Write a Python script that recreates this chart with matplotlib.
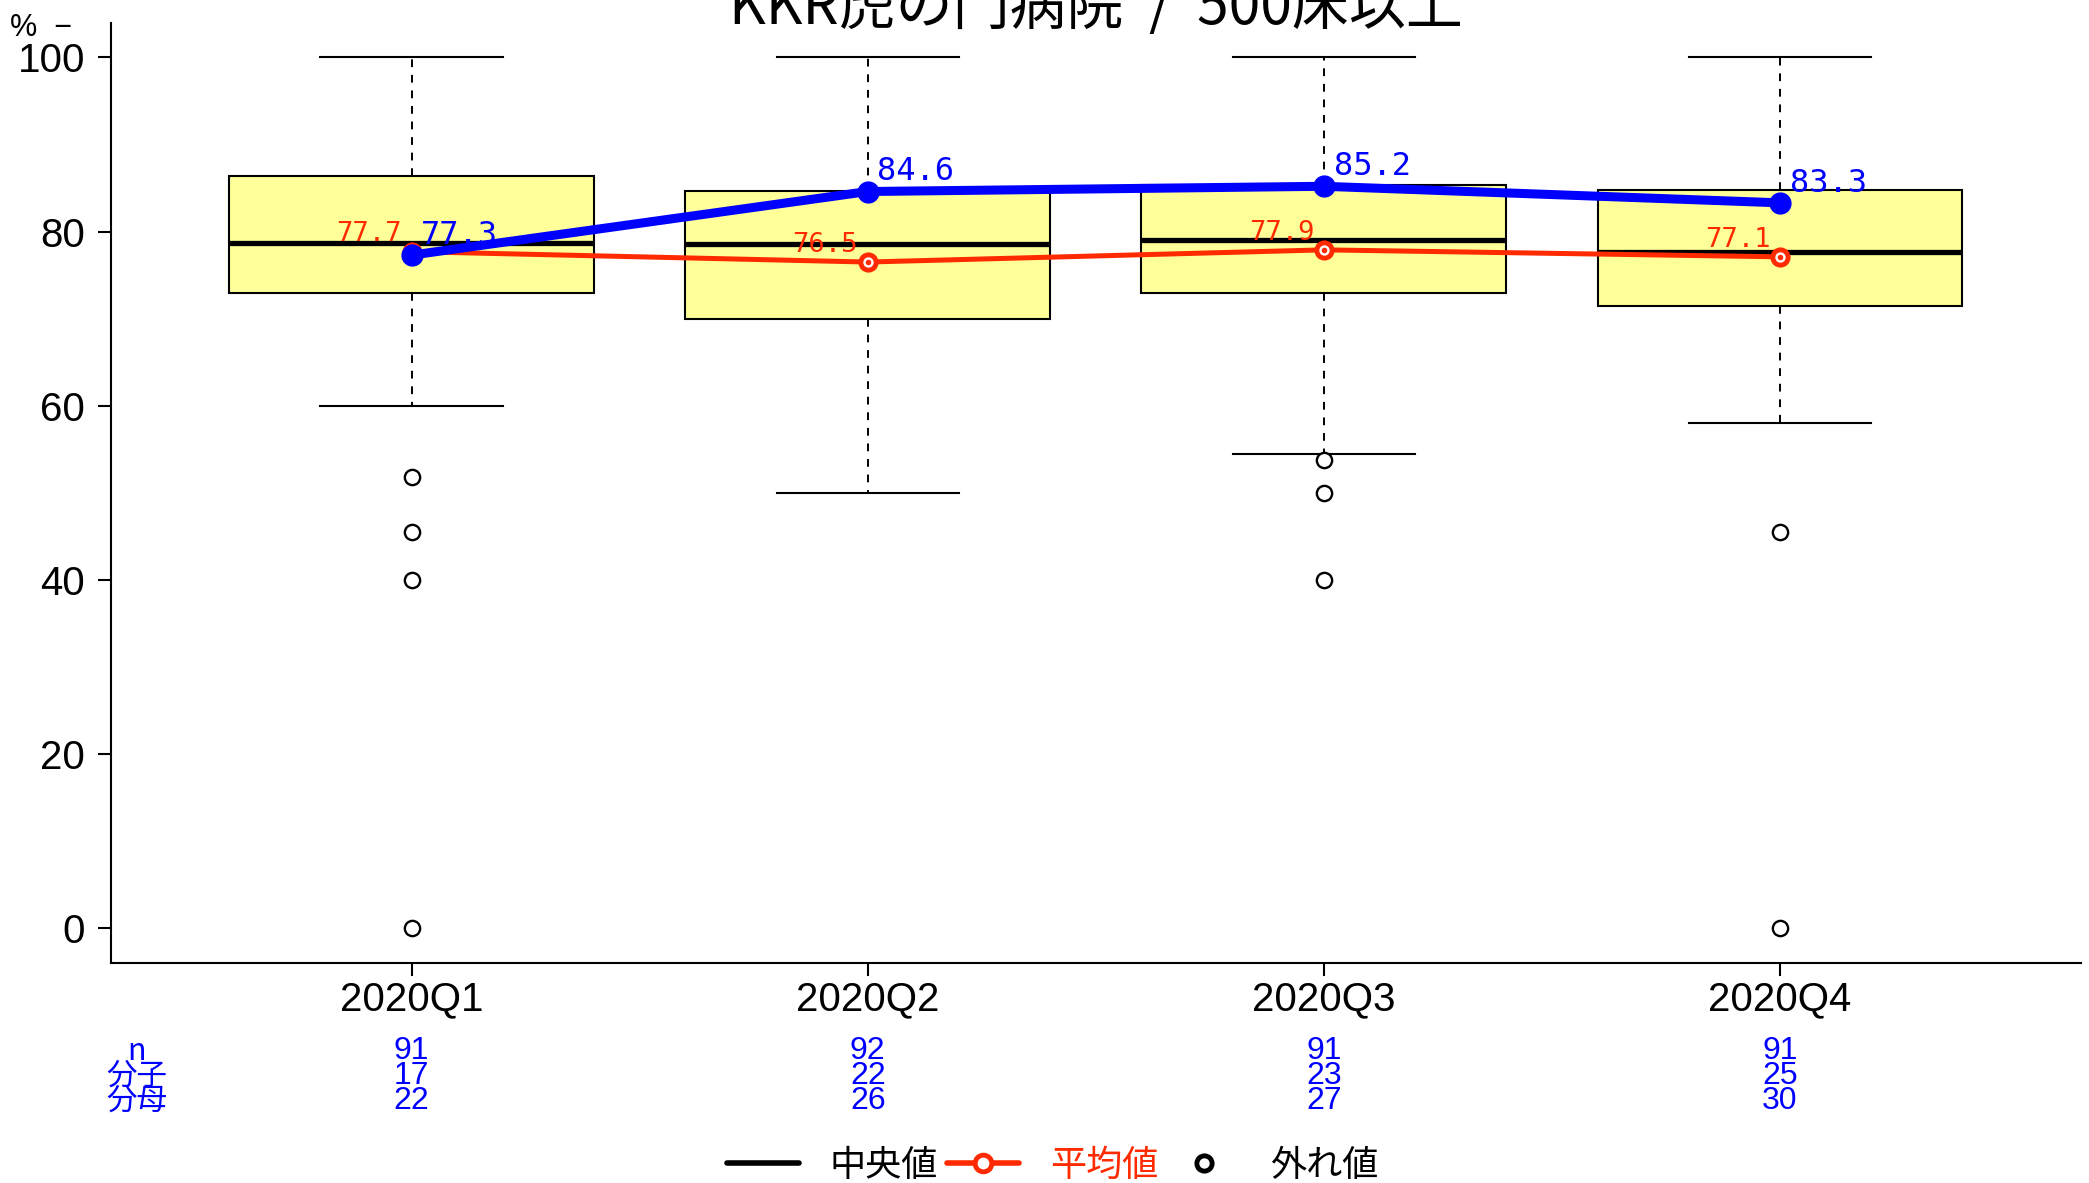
import matplotlib.pyplot as plt
import matplotlib.transforms as mtransforms
from matplotlib.lines import Line2D

plt.rcParams['font.family'] = ['Liberation Sans', 'Noto Sans CJK JP', 'DejaVu Sans']

title = 'KKR虎の門病院  /  500床以上'
quarters = ['2020Q1', '2020Q2', '2020Q3', '2020Q4']

# box stats
box_low = [73.0, 70.0, 73.0, 71.5]
box_med = [78.7, 78.6, 79.0, 77.6]
box_high = [86.4, 84.7, 85.3, 84.8]
whisk_low = [60.0, 50.0, 54.5, 58.0]
whisk_high = [100.0, 100.0, 100.0, 100.0]
outliers = [[51.8, 45.5, 40.0, 0.0], [], [53.8, 50.0, 40.0], [45.5, 0.0]]

means = [77.7, 76.5, 77.9, 77.1]
hospital = [77.3, 84.6, 85.2, 83.3]

n_rows = ['n', '分子', '分母']
n_vals = [91, 92, 91, 91]
num_vals = [17, 22, 23, 25]
den_vals = [22, 26, 27, 30]

RED = '#FF2A00'
BLUE = '#0000FF'
cjk = ['Noto Sans CJK JP', 'DejaVu Sans']

fig = plt.figure(figsize=(20.89, 11.83), dpi=100)
ax = fig.add_axes([0.05295, 0.18597, 0.94322, 0.79493])

pos = list(range(1, len(quarters) + 1))
stats = []
for i in range(len(quarters)):
    stats.append(dict(med=box_med[i], q1=box_low[i], q3=box_high[i],
                      whislo=whisk_low[i], whishi=whisk_high[i],
                      fliers=outliers[i]))

ax.bxp(stats, positions=pos, widths=0.8, capwidths=0.4, patch_artist=True,
       boxprops=dict(facecolor='#FFFF99', edgecolor='black', linewidth=1.5),
       medianprops=dict(color='black', linewidth=3.8, solid_capstyle='butt'),
       whiskerprops=dict(color='black', linewidth=1.4, linestyle=(0, (4, 4))),
       capprops=dict(color='black', linewidth=1.5),
       flierprops=dict(marker='o', markersize=11, markerfacecolor='white',
                       markeredgecolor='black', markeredgewidth=1.7))

ax.plot(pos, means, color=RED, lw=3.6, marker='o', ms=11, mfc='white',
        mec=RED, mew=3.5, zorder=4)
ax.plot(pos, means, ls='none', marker='o', ms=3, color=RED, zorder=4)
ax.plot(pos, hospital, color=BLUE, lw=6.5, marker='o', ms=15, zorder=5)

for x, m in zip(pos, means):
    ax.annotate(f'{m:.1f}', (x, m), xytext=(-7, 3), textcoords='offset points',
                ha='right', va='bottom', color=RED, fontsize=19.5,
                family='DejaVu Sans Mono', zorder=6)
for x, h in zip(pos, hospital):
    ax.annotate(f'{h:.1f}', (x, h), xytext=(7, 3), textcoords='offset points',
                ha='left', va='bottom', color=BLUE, fontsize=23,
                family='DejaVu Sans Mono', zorder=6)

ax.set_xlim(0.34, 4.66)
ax.set_ylim(-4, 104)
ax.set_xticks(pos)
ax.set_xticklabels(quarters)
ax.set_yticks([0, 20, 40, 60, 80, 100])
ax.tick_params(labelsize=29, length=9.5, width=1.5)
ax.tick_params(axis='y', pad=9)
ax.tick_params(axis='x', pad=3)
for s in ['top', 'right']:
    ax.spines[s].set_visible(False)
for s in ['left', 'bottom']:
    ax.spines[s].set_linewidth(1.5)

fig.text(0.5245, 1 - 37 / 1183, title, ha='center', va='bottom',
         fontsize=41, family=cjk)
fig.text(0.005, 1 - 28 / 1183, '%  −', ha='left', va='center', fontsize=22)

# n / numerator / denominator table under the axis
tr = mtransforms.blended_transform_factory(ax.transData, fig.transFigure)
row_y = [1 - 1051 / 1183, 1 - 1076 / 1183, 1 - 1101 / 1183]
for lab, yy in zip(n_rows, row_y):
    fig.text(137 / 2089, yy, lab, ha='center', va='center', color=BLUE,
             fontsize=22, family=cjk)
for vals, yy in zip([n_vals, num_vals, den_vals], row_y):
    for x, v in zip(pos, vals):
        fig.text(x, yy, str(v), transform=tr, ha='center', va='center',
                 color=BLUE, fontsize=23)

handles = [Line2D([], [], color='black', lw=4, solid_capstyle='round'),
           Line2D([], [], color=RED, lw=4, marker='o', ms=12, mfc='white',
                  mec=RED, mew=3.5, solid_capstyle='round'),
           Line2D([], [], ls='none', marker='o', ms=11, mfc='white',
                  mec='black', mew=3.5)]
leg = fig.legend(handles, ['中央値', '平均値', '外れ値'], loc='center',
                 bbox_to_anchor=(0.504, 1 - 1166 / 1183), ncol=3, frameon=False,
                 prop=dict(family=cjk, size=26), handlelength=2,
                 handletextpad=0.85, columnspacing=0.25)
for t, c in zip(leg.get_texts(), ['black', RED, 'black']):
    t.set_color(c)

fig.savefig('out.png', dpi=100)
